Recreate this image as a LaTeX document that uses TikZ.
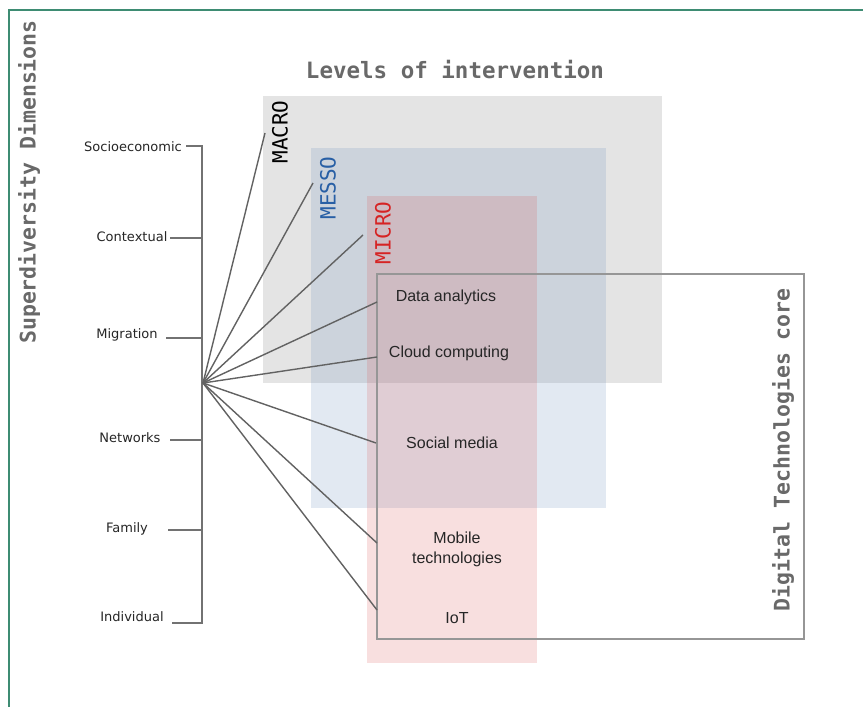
\documentclass[tikz,border=0pt]{standalone}
\usepackage{fontspec}
\setmainfont{DejaVu Sans}
\newfontfamily\monofont{DejaVu Sans Mono}
\newfontfamily\labelfont{DejaVu Sans}
\newfontfamily\techfont{Liberation Sans}
\definecolor{framegreen}{RGB}{62,140,115}
\definecolor{macrofill}{RGB}{228,228,228}
\definecolor{messofill}{RGB}{123,155,196}
\definecolor{microfill}{RGB}{220,80,80}
\definecolor{linegray}{RGB}{98,98,98}
\definecolor{boxgray}{RGB}{150,150,150}
\definecolor{titlegray}{RGB}{105,105,105}
\definecolor{messoblue}{RGB}{40,95,165}
\definecolor{microred}{RGB}{214,35,35}
\tikzset{
  px/.style={x=1pt,y=-1pt},
  title/.style={font=\monofont\bfseries\fontsize{21.5}{24}\selectfont, text=titlegray, inner sep=0pt},
  levelname/.style={font=\monofont\fontsize{21}{24}\selectfont, rotate=90, inner sep=0pt},
  dimlabel/.style={font=\labelfont\fontsize{13}{15}\selectfont, text=black!85, inner sep=0pt},
  techlabel/.style={font=\techfont\fontsize{16}{20}\selectfont, text=black!85, inner sep=0pt, align=center},
  spoke/.style={draw=linegray, line width=1.4pt},
  tick/.style={draw=linegray!90, line width=1.5pt},
}
\begin{document}
\begin{tikzpicture}[px]
\useasboundingbox (0,0) rectangle (863,707);
\fill[white] (0,0) rectangle (863,707);
% outer frame (top and left edges)
\draw[framegreen, line width=1.6pt] (863,10) -- (9,10) -- (9,707);

% levels of intervention
\fill[macrofill] (263,96) rectangle (662,383);
\fill[messofill, fill opacity=0.22] (311,148) rectangle (606,508);
\fill[microfill, fill opacity=0.18] (367,196) rectangle (537,663);

% digital technologies core
\draw[boxgray, line width=1.5pt] (377,274) rectangle (804,639);

% titles
\node[title, rotate=90] (sdtitle) at (29,182) {Superdiversity Dimensions};
\node[title, font=\monofont\bfseries\fontsize{22.5}{26}\selectfont] (lvtitle) at (455,70) {Levels of intervention};
\node[title, rotate=90] (dttitle) at (783,450) {Digital Technologies core};

% level names
\node[levelname, text=black] (macro) at (280,132) {MACRO};
\node[levelname, text=messoblue] (messo) at (328,188) {MESSO};
\node[levelname, text=microred] (micro) at (383,233) {MICRO};

% dimensions
\node[dimlabel] (socio) at (133,147) {Socioeconomic};
\node[dimlabel] (context) at (132,237) {Contextual};
\node[dimlabel] (migr) at (127,335) {Migration};
\node[dimlabel] (netw) at (130,438) {Networks};
\node[dimlabel] (fam) at (127,529) {Family};
\node[dimlabel] (indiv) at (132,617) {Individual};

% tick ends beside the dimension labels
\coordinate (tsocio) at (186,146);
\coordinate (tcontext) at (170,238);
\coordinate (tmigr) at (166,338);
\coordinate (tnetw) at (170,440);
\coordinate (tfam) at (168,530);
\coordinate (tindiv) at (172,623);
\coordinate (stop) at (202,146);
\coordinate (sbot) at (202,623);

% spine with ticks
\draw[tick] (tsocio) -- (stop) -- (sbot) -- (tindiv);
\draw[tick] (tcontext) -- (202,238);
\draw[tick] (tmigr) -- (202,338);
\draw[tick] (tnetw) -- (202,440);
\draw[tick] (tfam) -- (202,530);

% technologies
\node[techlabel] (data) at (446,297) {Data analytics};
\node[techlabel] (cloud) at (449,353) {Cloud computing};
\node[techlabel] (social) at (452,443) {Social media};
\node[techlabel] (mobile) at (457,549) {Mobile\\technologies};
\node[techlabel] (iot) at (457,618) {IoT};

% spoke ends
\coordinate (hub) at (203,383);
\coordinate (emacro) at (265,133);
\coordinate (emesso) at (313,183);
\coordinate (emicro) at (363,235);
\coordinate (edata) at (377,302);
\coordinate (ecloud) at (377,357);
\coordinate (esocial) at (376,443);
\coordinate (emobile) at (377,543);
\coordinate (eiot) at (377,610);

\foreach \e in {emacro,emesso,emicro,edata,ecloud,esocial,emobile,eiot}
  \draw[spoke] (hub) -- (\e);
\end{tikzpicture}
\end{document}
